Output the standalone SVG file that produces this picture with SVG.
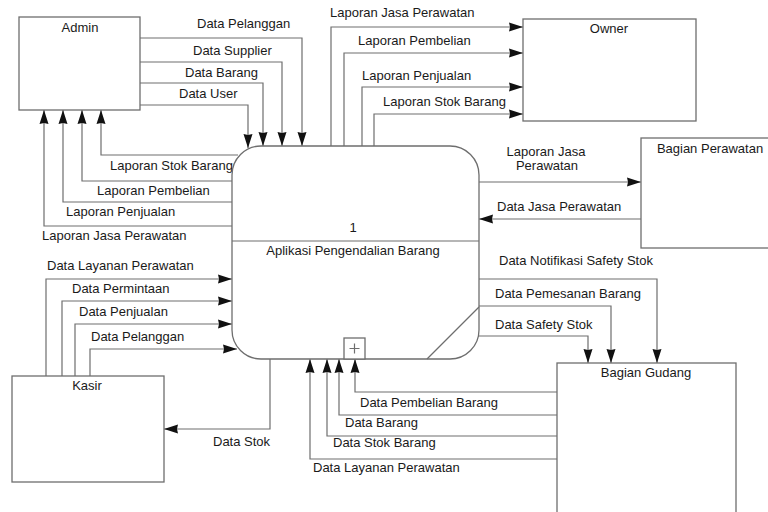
<svg xmlns="http://www.w3.org/2000/svg" width="768" height="512" viewBox="0 0 768 512">
  <style>
    .box { fill: #ffffff; stroke: #6e6e6e; stroke-width: 1.3; }
    .flow { fill: none; stroke: #6e6e6e; stroke-width: 1.2; marker-end: url(#arrow); }
    .line { fill: none; stroke: #6e6e6e; stroke-width: 1.2; }
    text { font-family: "Liberation Sans", Arial, sans-serif; font-size: 13px; fill: #1a1a1a; }
    .mid { text-anchor: middle; }
  </style>
  <defs>
    <marker id="arrow" markerUnits="userSpaceOnUse" markerWidth="15" markerHeight="10" refX="14" refY="5" orient="auto">
      <path d="M0,0.5 L14,5 L0,9.5 L1,5 z" fill="#111111"/>
    </marker>
  </defs>
  <rect width="768" height="512" fill="#ffffff"/>

  <!-- connectors -->
  <g id="connectors">
    <!-- Admin to process -->
    <path class="flow" d="M140,38 H302 V146"/>
    <path class="flow" d="M140,62 H282 V146"/>
    <path class="flow" d="M140,83 H263 V146"/>
    <path class="flow" d="M140,105 H248 V148"/>
    <!-- process to Admin -->
    <path class="flow" d="M238,155 H101 V110"/>
    <path class="flow" d="M232,181 H82 V110"/>
    <path class="flow" d="M232,202 H63 V110"/>
    <path class="flow" d="M232,226 H44 V110"/>
    <!-- process to Owner -->
    <path class="flow" d="M331,146 V27 H523"/>
    <path class="flow" d="M344,146 V53 H523"/>
    <path class="flow" d="M362,146 V87 H523"/>
    <path class="flow" d="M374,146 V114 H523"/>
    <!-- process and Bagian Perawatan -->
    <path class="flow" d="M479,182 H641"/>
    <path class="flow" d="M641,219 H479"/>
    <!-- process to Bagian Gudang -->
    <path class="flow" d="M479,279 H657 V363"/>
    <path class="flow" d="M479,306 H611 V363"/>
    <path class="flow" d="M477,336 H588 V363"/>
    <!-- Bagian Gudang to process -->
    <path class="flow" d="M557,392 H355 V359"/>
    <path class="flow" d="M557,415 H339 V359"/>
    <path class="flow" d="M557,436 H327 V359"/>
    <path class="flow" d="M557,459 H310 V359"/>
    <!-- Kasir to process -->
    <path class="flow" d="M46,376 V279 H232"/>
    <path class="flow" d="M62,376 V301 H232"/>
    <path class="flow" d="M75,376 V324 H232"/>
    <path class="flow" d="M90,376 V349 H237"/>
    <!-- process to Kasir -->
    <path class="flow" d="M270,359 V429 H164"/>

    <text x="197" y="28">Data Pelanggan</text>
    <text x="193" y="55">Data Supplier</text>
    <text x="185" y="77">Data Barang</text>
    <text x="179" y="98">Data User</text>

    <text x="110" y="170">Laporan Stok Barang</text>
    <text x="97" y="195">Laporan Pembelian</text>
    <text x="66" y="216">Laporan Penjualan</text>
    <text x="42" y="240">Laporan Jasa Perawatan</text>

    <text x="330" y="17">Laporan Jasa Perawatan</text>
    <text x="358" y="45">Laporan Pembelian</text>
    <text x="362" y="80">Laporan Penjualan</text>
    <text x="383" y="106">Laporan Stok Barang</text>

    <text class="mid" x="546" y="156">Laporan Jasa</text>
    <text class="mid" x="547" y="170">Perawatan</text>
    <text x="497" y="211">Data Jasa Perawatan</text>

    <text x="499" y="265">Data Notifikasi Safety Stok</text>
    <text x="495" y="298">Data Pemesanan Barang</text>
    <text x="495" y="329">Data Safety Stok</text>

    <text x="360" y="407">Data Pembelian Barang</text>
    <text x="345" y="427">Data Barang</text>
    <text x="333" y="447">Data Stok Barang</text>
    <text x="313" y="472">Data Layanan Perawatan</text>

    <text x="47" y="270">Data Layanan Perawatan</text>
    <text x="72" y="293">Data Permintaan</text>
    <text x="79" y="316">Data Penjualan</text>
    <text x="91" y="341">Data Pelanggan</text>

    <text x="213" y="446">Data Stok</text>
  </g>

  <!-- external entities -->
  <g id="admin">
    <rect class="box" x="19" y="17" width="121" height="93"/>
    <text class="mid" x="80" y="32">Admin</text>
  </g>
  <g id="owner">
    <rect class="box" x="523" y="19" width="173" height="102"/>
    <text class="mid" x="609" y="33">Owner</text>
  </g>
  <g id="bagian-perawatan">
    <rect class="box" x="641" y="138" width="132" height="110"/>
    <text class="mid" x="710" y="153">Bagian Perawatan</text>
  </g>
  <g id="kasir">
    <rect class="box" x="12" y="376" width="152" height="106"/>
    <text class="mid" x="87" y="390">Kasir</text>
  </g>
  <g id="bagian-gudang">
    <rect class="box" x="557" y="363" width="179" height="160"/>
    <text class="mid" x="646" y="377">Bagian Gudang</text>
  </g>

  <!-- process 1 -->
  <g id="process-1">
    <rect class="box" x="232" y="146" width="247" height="213" rx="29" ry="29"/>
    <line class="line" x1="232" y1="241" x2="479" y2="241"/>
    <line class="line" x1="427" y1="359" x2="479" y2="307"/>
    <text class="mid" x="353" y="232">1</text>
    <text class="mid" x="353" y="255">Aplikasi Pengendalian Barang</text>
    <rect class="box" x="344" y="338" width="21" height="21"/>
    <path class="line" d="M349.5,348.5 H359.5 M354.5,343.5 V353.5" stroke="#333333"/>
  </g>
</svg>
